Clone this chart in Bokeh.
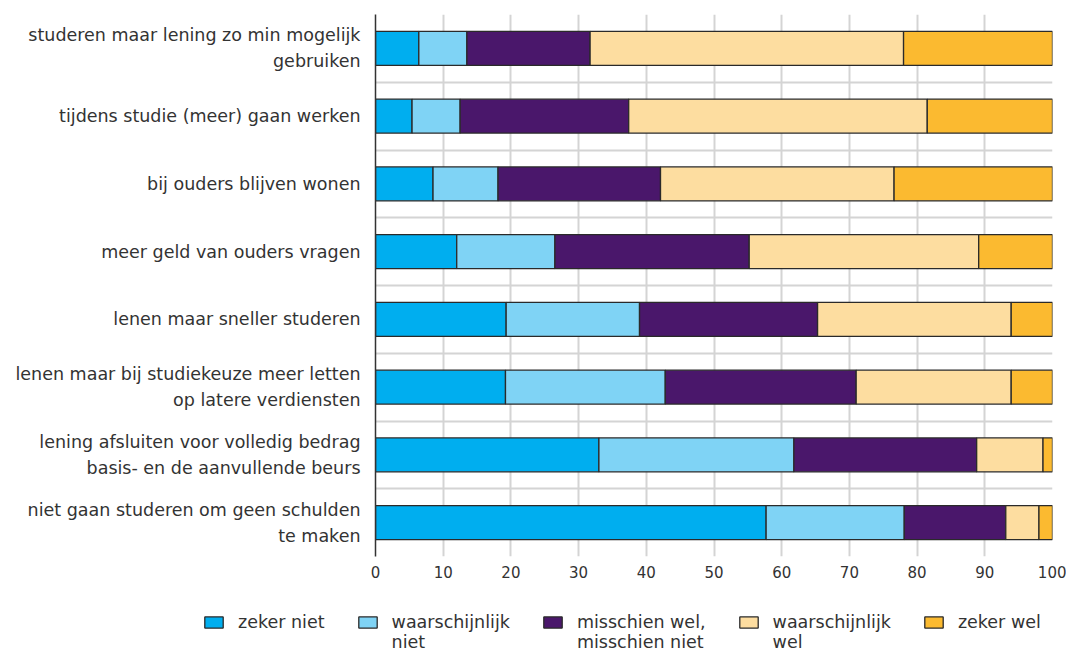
from bokeh.plotting import figure
from bokeh.layouts import column
from bokeh.models import ColumnDataSource, FixedTicker, Legend, LegendItem, Range1d
from bokeh.embed import file_html
from bokeh.resources import INLINE

categories = [
    "studeren maar lening zo min mogelijk\ngebruiken",
    "tijdens studie (meer) gaan werken",
    "bij ouders blijven wonen",
    "meer geld van ouders vragen",
    "lenen maar sneller studeren",
    "lenen maar bij studiekeuze meer letten\nop latere verdiensten",
    "lening afsluiten voor volledig bedrag\nbasis- en de aanvullende beurs",
    "niet gaan studeren om geen schulden\nte maken",
]
zeker_niet = [6.4, 5.4, 8.5, 12.0, 19.3, 19.2, 33.0, 57.7]
waarschijnlijk_niet = [7.1, 7.1, 9.6, 14.5, 19.7, 23.6, 28.8, 20.4]
misschien = [18.2, 24.9, 24.0, 28.7, 26.3, 28.2, 27.0, 15.0]
waarschijnlijk_wel = [46.3, 44.1, 34.5, 33.9, 28.6, 22.9, 9.8, 4.9]
zeker_wel = [22.0, 18.5, 23.4, 10.9, 6.1, 6.1, 1.4, 2.0]

series_keys = ["zn", "wn", "mw", "ww", "zw"]
series_labels = ["zeker niet", "waarschijnlijk\nniet", "misschien wel,\nmisschien niet",
                 "waarschijnlijk\nwel", "zeker wel"]
colors = ["#00AEEF", "#7FD3F5", "#4A176B", "#FDDDA0", "#FBBA30"]
x_ticks = [0, 10, 20, 30, 40, 50, 60, 70, 80, 90, 100]

FONT = "DejaVu Sans"
TEXT = "#333333"
OUTLINE = "#2a2a2a"

n = len(categories)
ypos = [n - 0.5 - i for i in range(n)]

src = ColumnDataSource(dict(y=ypos, zn=zeker_niet, wn=waarschijnlijk_niet, mw=misschien,
                            ww=waarschijnlijk_wel, zw=zeker_wel))

p = figure(frame_width=677, frame_height=542, x_range=Range1d(0, 100), y_range=Range1d(0, n),
           output_backend="svg", toolbar_location=None,
           min_border_left=375, min_border_top=14, min_border_right=14, min_border_bottom=26)
p.outline_line_color = None
p.frame_align = False

rs = p.hbar_stack(series_keys, y="y", height=0.5, fill_color=colors, line_color=OUTLINE,
                  line_width=1.3, source=src)

# grids
p.xgrid.ticker = FixedTicker(ticks=x_ticks)
p.xgrid.grid_line_color = "#d4d4d4"
p.xgrid.grid_line_width = 2
p.ygrid.ticker = FixedTicker(ticks=list(range(0, n + 1)))
p.ygrid.grid_line_color = "#d4d4d4"
p.ygrid.grid_line_width = 2

# x axis
xa = p.xaxis[0]
xa.ticker = FixedTicker(ticks=x_ticks)
xa.axis_line_color = None
xa.major_tick_line_color = None
xa.minor_tick_line_color = None
xa.major_tick_out = 0
xa.major_label_standoff = 9
xa.major_label_text_font = FONT
xa.major_label_text_font_size = "15px"
xa.major_label_text_color = TEXT

# y axis
ya = p.yaxis[0]
ya.ticker = FixedTicker(ticks=ypos)
ya.major_label_overrides = {y: c for y, c in zip(ypos, categories)}
ya.axis_line_color = "#333333"
ya.axis_line_width = 1.5
ya.major_tick_line_color = None
ya.minor_tick_line_color = None
ya.major_tick_out = 0
ya.major_tick_in = 0
ya.major_label_standoff = 15
ya.major_label_text_font = FONT
ya.major_label_text_font_size = "17.5px"
ya.major_label_text_color = TEXT
ya.major_label_text_line_height = 1.3

# legend in its own strip below the chart (frame covers the whole strip)
lf = figure(width=1066, height=71, x_range=Range1d(0, 100), y_range=Range1d(0, n),
            output_backend="svg", toolbar_location=None, x_axis_type=None, y_axis_type=None,
            min_border=0)
lf.outline_line_color = None
lf.frame_align = False
lf.xgrid.visible = False
lf.ygrid.visible = False
proxies = lf.hbar_stack(series_keys, y="y", height=0.5, fill_color=colors, line_color=OUTLINE,
                        line_width=1.3, source=src)
for r in proxies:
    r.visible = False


def top_aligned(label):
    # a blank first line (and padding last line) keeps the swatch level with the first text line
    lines = label.split("\n")
    if len(lines) == 1:
        lines.append(" ")
    return "\n".join([" "] + lines)


legend = Legend(items=[LegendItem(label=top_aligned(l), renderers=[r])
                       for l, r in zip(series_labels, proxies)],
                orientation="horizontal", location=(202, 1),
                glyph_width=23, glyph_height=14, label_standoff=13, spacing=31,
                label_text_font=FONT, label_text_font_size="17.5px", label_text_color=TEXT,
                label_text_line_height=1.3,
                border_line_color=None, background_fill_alpha=0, padding=0, margin=0)
lf.add_layout(legend, "center")

layout = column(p, lf, spacing=0)
open("out.html", "w").write(file_html(layout, INLINE))
